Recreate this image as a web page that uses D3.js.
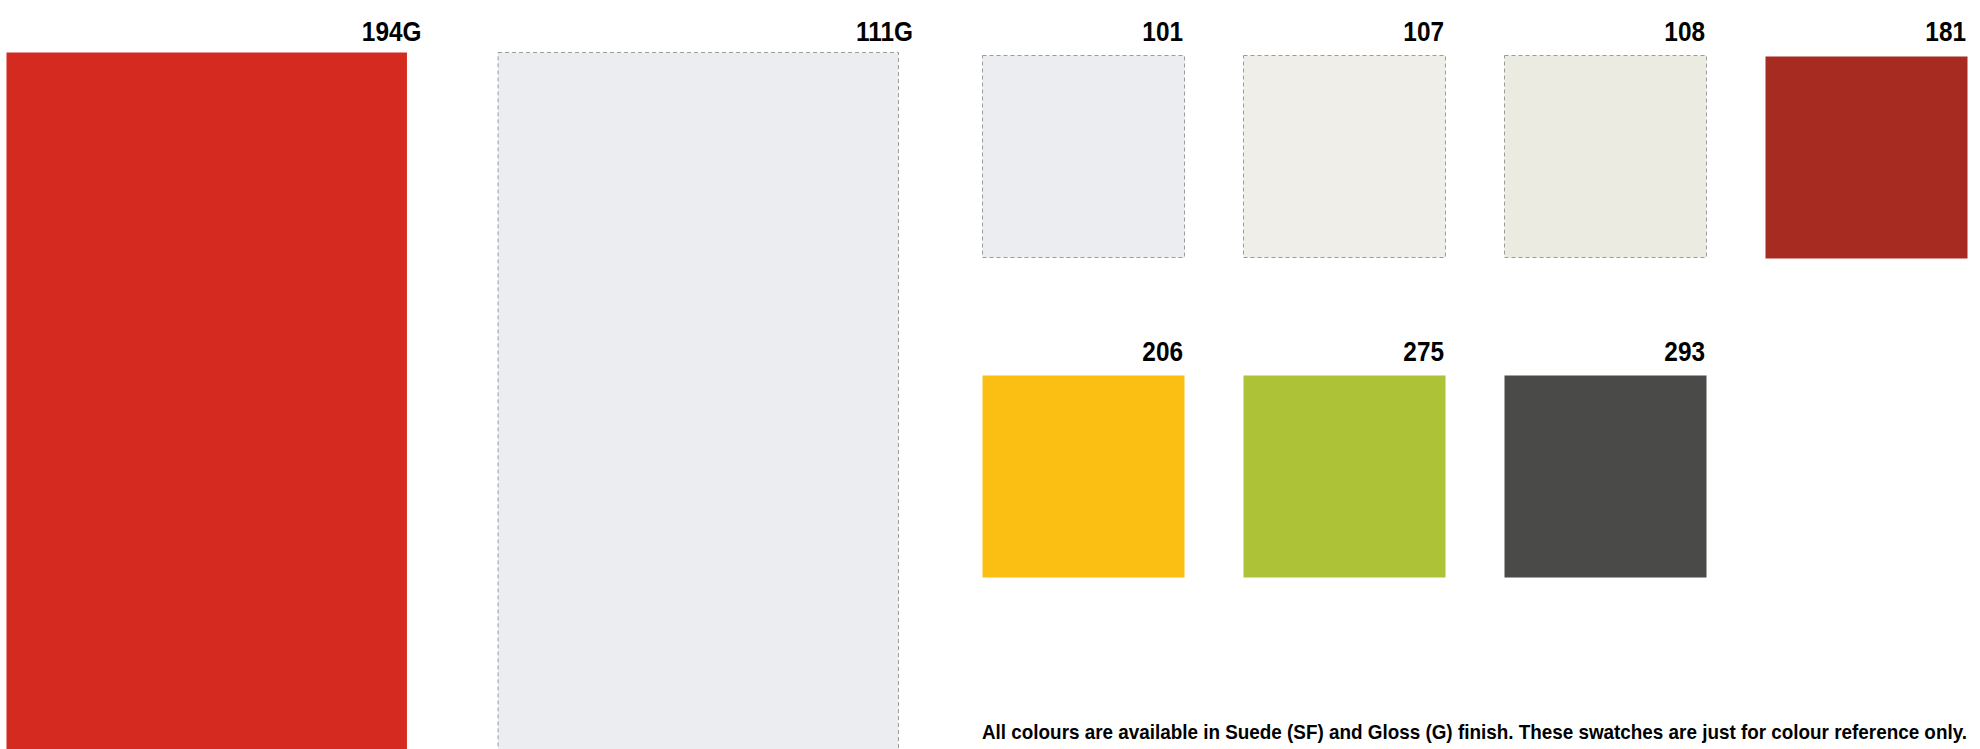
<!DOCTYPE html>
<html>
<head>
<meta charset="utf-8">
<script src="https://cdn.jsdelivr.net/npm/d3@7"></script>
<style>
  html, body { margin: 0; padding: 0; background: #fff; overflow: hidden; }
  svg { display: block; }
  text { font-family: "Liberation Sans", Arial, sans-serif; font-weight: bold; fill: #000; }
</style>
</head>
<body>
<script>
// Large swatches (columns on the left)
const bigCodes = ["194G", "111G"];
const bigColors = ["#d52a20", "#ecedf1"];
const bigOutlined = [false, true];

// Small swatch grid
const gridCodes = ["101", "107", "108", "181", "206", "275", "293"];
const gridColors = ["#ecedf1", "#efeee9", "#ecebe1", "#a82b21", "#fbbe13", "#adc236", "#4a4a48"];
const gridOutlined = [true, true, true, false, false, false, false];
const gridCol = [0, 1, 2, 3, 0, 1, 2];
const gridRow = [0, 0, 0, 0, 1, 1, 1];

const noteText = "All colours are available in Suede (SF) and Gloss (G) finish. These swatches are just for colour reference only.";

const W = 1980, H = 749;
const svg = d3.select("body").append("svg").attr("width", W).attr("height", H);

// scales
const xBig = d3.scaleBand().domain(d3.range(bigCodes.length)).range([6, 899]).paddingInner(90 / 491);
const xGrid = d3.scaleBand().domain([0, 1, 2, 3]).range([982, 1968]).paddingInner(58 / 261);
const yGrid = d3.scaleBand().domain([0, 1]).range([55, 578]).paddingInner(117 / 320);

const bigTop = 52;
const condense = 0.87;
const dashColor = "#9c9c9c";
const dash = "4,3";

// big swatches
const big = svg.append("g").selectAll("g").data(bigCodes).join("g");
big.append("rect")
  .attr("x", (d, i) => xBig(i) + 0.5)
  .attr("y", bigTop + 0.5)
  .attr("width", xBig.bandwidth() - 1)
  .attr("height", H + 20)
  .attr("fill", (d, i) => bigColors[i])
  .attr("stroke", (d, i) => bigOutlined[i] ? dashColor : "none")
  .attr("stroke-width", 1)
  .attr("stroke-dasharray", dash);
big.append("text")
  .attr("transform", (d, i) => `translate(${xBig(i) + xBig.bandwidth() + 14},${bigTop - 11}) scale(${condense},1)`)
  .attr("text-anchor", "end")
  .attr("font-size", 28)
  .text(d => d);

// grid swatches
const grid = svg.append("g").selectAll("g").data(gridCodes).join("g");
grid.append("rect")
  .attr("x", (d, i) => xGrid(gridCol[i]) + 0.5)
  .attr("y", (d, i) => yGrid(gridRow[i]) + 0.5 + (gridOutlined[i] ? 0 : (gridRow[i] === 0 ? 1 : 0)))
  .attr("width", xGrid.bandwidth() - 1)
  .attr("height", yGrid.bandwidth() - 1)
  .attr("fill", (d, i) => gridColors[i])
  .attr("stroke", (d, i) => gridOutlined[i] ? dashColor : "none")
  .attr("stroke-width", 1)
  .attr("stroke-dasharray", dash);
grid.append("text")
  .attr("transform", (d, i) => `translate(${xGrid(gridCol[i]) + xGrid.bandwidth() - 2},${yGrid(gridRow[i]) - 14}) scale(${condense},1)`)
  .attr("text-anchor", "end")
  .attr("font-size", 28)
  .text(d => d);

// note
svg.append("text")
  .attr("x", 982)
  .attr("y", 739)
  .attr("font-size", 21)
  .attr("textLength", 985)
  .attr("lengthAdjust", "spacingAndGlyphs")
  .text(noteText);
</script>
</body>
</html>
